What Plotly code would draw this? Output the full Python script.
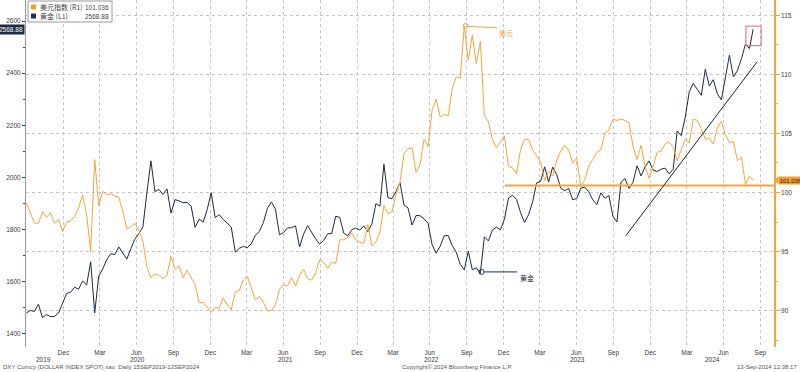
import pandas as pd
import plotly.graph_objects as go

# ---------------- data ----------------
dates = list(pd.date_range("2019-10-01", periods=181, freq="10D")) + [pd.Timestamp("2024-09-13")]

gold = [
    1478, 1488, 1484, 1512, 1460, 1472, 1464, 1465, 1478, 1515,
    1553, 1558, 1577, 1570, 1601, 1586, 1675, 1478, 1620, 1647,
    1683, 1706, 1703, 1732, 1710, 1685, 1726, 1762, 1784, 1809,
    1941, 2063, 1945, 1953, 1934, 1955, 1862, 1914, 1909, 1902,
    1903, 1889, 1807, 1839, 1827, 1876, 1940, 1845, 1856, 1837,
    1824, 1808, 1712, 1727, 1734, 1729, 1745, 1777, 1792, 1826,
    1881, 1905, 1877, 1779, 1787, 1805, 1806, 1813, 1732, 1781,
    1814, 1788, 1763, 1743, 1757, 1783, 1783, 1850, 1846, 1785,
    1775, 1798, 1805, 1797, 1813, 1791, 1820, 1898, 1889, 2050,
    1921, 1918, 1945, 1979, 1893, 1882, 1816, 1853, 1852, 1840,
    1822, 1740, 1708, 1735, 1775, 1776, 1737, 1712, 1665, 1644,
    1716, 1644, 1652, 1630, 1771, 1755, 1797, 1808, 1798, 1839,
    1920, 1931, 1915, 1865, 1826, 1856, 1904, 1978, 1984, 2040,
    1982, 2039, 2011, 1958, 1948, 1957, 1913, 1919, 1958, 1962,
    1944, 1913, 1895, 1940, 1919, 1930, 1850, 1828, 1981, 1995,
    1957, 1981, 2044, 2005, 2040, 2063, 2028, 2022, 2031, 2035,
    2013, 2031, 2178, 2160, 2230, 2329, 2361, 2338, 2315, 2415,
    2351, 2375, 2320, 2298, 2392, 2469, 2386, 2410, 2456, 2512,
    2495, 2568.88,
]

dxy = [
    99.1, 98.3, 97.4, 97.4, 98.4, 97.9, 98.3, 97.4, 97.7, 96.7,
    97.5, 97.6, 98.0, 98.7, 99.8, 98.1, 95.0, 102.8, 98.9, 100.1,
    99.8, 99.9, 99.7, 99.6, 98.4, 96.9, 97.1, 97.4, 96.8, 95.9,
    93.7, 92.8, 93.1, 93.0, 92.7, 93.0, 94.6, 93.5, 93.8, 92.8,
    93.4, 92.8, 92.2, 90.7, 90.7, 90.3, 89.9, 90.3, 90.2, 91.1,
    90.5, 90.1, 91.6, 91.7, 92.6, 92.9, 91.8, 90.9, 91.2, 90.7,
    90.0, 90.0, 90.5, 91.8, 92.2, 92.1, 92.8, 92.1, 93.0, 93.5,
    92.7, 92.6, 93.2, 94.3, 94.1, 93.6, 94.1, 94.0, 96.0, 96.0,
    96.2, 96.6, 96.0, 95.8, 95.7, 97.3, 95.5, 95.8, 96.6, 98.9,
    98.2, 98.4, 99.8, 100.9, 103.3, 103.7, 103.8, 101.7, 102.4, 104.5,
    103.9, 107.0, 107.9, 106.4, 106.6, 106.5, 108.8, 109.8, 109.7, 114.1,
    111.2, 113.3, 110.9, 112.8, 106.5, 106.0, 104.5, 103.8, 104.3, 104.8,
    102.2, 102.1, 101.6, 103.6, 104.5, 104.5, 103.6, 103.1, 102.6, 101.0,
    101.8, 101.4, 102.7, 103.5, 104.0, 103.6, 102.5, 102.9, 100.5, 101.1,
    102.3, 102.8, 103.4, 103.6, 105.0, 105.3, 106.2, 106.1, 106.2, 106.1,
    105.9, 103.9, 102.8, 104.0, 102.2, 101.2, 102.2, 103.4, 103.5, 104.1,
    104.3, 103.8, 102.7, 103.6, 104.5, 104.2, 106.2, 106.1, 105.4, 104.5,
    104.6, 104.1, 105.5, 106.0, 104.9, 104.2, 104.3, 102.7, 103.0, 100.7,
    101.4, 101.036,
]

tick_dates = list(pd.date_range("2020-01-01", "2024-10-01", freq="QS"))
tick_text = ["Dec", "Mar", "Jun", "Sep"] * 5
years = ["2019", "2020", "2021", "2022", "2023", "2024"]
year_px = [43, 137, 285, 431, 577, 712]

ORANGE = "#f4a43a"
NAVY = "#1c2b40"
GRID = "#c4c4c4"
TXT = "#3a3a3a"

# ---------------- geometry helpers ----------------
W, H = 800, 372
L, R, T, B = 26, 26, 0, 25
PW, PH = W - L - R, H - T - B


def px(x):
    return (x - L) / PW


def py(y):
    return (T + PH - y) / PH


fig = go.Figure()
fig.add_trace(go.Scatter(x=dates, y=dxy, mode="lines", name="美元指数 (R1)",
                         line=dict(color=ORANGE, width=1), yaxis="y2"))
fig.add_trace(go.Scatter(x=dates, y=gold, mode="lines", name="黄金 (L1)",
                         line=dict(color=NAVY, width=1), yaxis="y"))

tickfont = dict(family="Liberation Sans, Arial", size=6.5, color=TXT)

fig.update_layout(
    width=W, height=H,
    margin=dict(l=L, r=R, t=T, b=B),
    paper_bgcolor="white", plot_bgcolor="white",
    showlegend=False,
    xaxis=dict(range=["2019-09-30", "2024-11-04"], tickmode="array",
               tickvals=tick_dates, ticktext=tick_text, showgrid=True,
               gridcolor=GRID, griddash="dot", gridwidth=1, zeroline=False,
               showline=False, ticks="", tickfont=tickfont),
    yaxis=dict(range=[1347.3, 2681.5], tick0=1400, dtick=200, ticks="outside",
               ticklen=3, tickcolor="#3a4656", showline=True, linecolor="#8d98a8",
               linewidth=1, showgrid=False, zeroline=False, tickfont=tickfont,
               minor=dict(dtick=100, ticks="outside", ticklen=2, tickcolor="#3a4656")),
    yaxis2=dict(range=[86.93, 116.29], tick0=90, dtick=5, overlaying="y", side="right",
                ticks="outside", ticklen=4, tickcolor=ORANGE, showline=True,
                linecolor=ORANGE, linewidth=1.5, showgrid=True, gridcolor=GRID,
                griddash="dot", gridwidth=1, zeroline=False, tickfont=tickfont,
                minor=dict(dtick=2.5, ticks="outside", ticklen=2, tickcolor=ORANGE)),
)

shapes = []
# orange horizontal support line
shapes.append(dict(type="line", xref="x", yref="y2", x0="2023-01-04", x1="2024-11-04",
                   y0=100.6, y1=100.6, line=dict(color=ORANGE, width=2)))
# trend line on gold
shapes.append(dict(type="line", xref="x", yref="y", x0="2023-11-01", y0=1775,
                   x1="2024-09-23", y1=2444, line=dict(color="#222222", width=1)))
# red box
shapes.append(dict(type="rect", xref="x", yref="y", x0="2024-08-26", x1="2024-10-03",
                   y0=2506, y1=2581, line=dict(color="#e0607a", width=1)))
# 美元 marker
shapes.append(dict(type="circle", xref="x", yref="y2", xsizemode="pixel", ysizemode="pixel",
                   xanchor="2022-09-28", yanchor=114.1, x0=-2.5, x1=2.5, y0=-2.5, y1=2.5,
                   line=dict(color=ORANGE, width=1)))
shapes.append(dict(type="line", xref="x", yref="y2", x0="2022-10-04", y0=114.05,
                   x1="2022-12-15", y1=113.95, line=dict(color=ORANGE, width=1)))
# 黄金 marker
shapes.append(dict(type="circle", xref="x", yref="y", xsizemode="pixel", ysizemode="pixel",
                   xanchor="2022-11-07", yanchor=1636, x0=-2.5, x1=2.5, y0=-2.5, y1=2.5,
                   line=dict(color=NAVY, width=1)))
shapes.append(dict(type="line", xref="x", yref="y", x0="2022-11-14", y0=1636,
                   x1="2023-02-03", y1=1636, line=dict(color=NAVY, width=1)))
# legend box
shapes.append(dict(type="rect", xref="paper", yref="paper", x0=px(28), x1=px(112),
                   y0=py(22), y1=py(1), fillcolor="white", line=dict(color="#9a9a9a", width=1)))
shapes.append(dict(type="rect", xref="paper", yref="paper", x0=px(31), x1=px(36),
                   y0=py(9.5), y1=py(4.5), fillcolor="#f5a01e", line=dict(width=0)))
shapes.append(dict(type="rect", xref="paper", yref="paper", x0=px(31), x1=px(36),
                   y0=py(18.5), y1=py(13.5), fillcolor="#1f3350", line=dict(width=0)))
# right value flag arrow
shapes.append(dict(type="path", xref="paper", yref="paper",
                   path=f"M {px(774.5)},{py(180.3)} L {px(778.5)},{py(176.3)} L {px(778.5)},{py(184.3)} Z",
                   fillcolor="#f0a030", line=dict(width=0)))
fig.update_layout(shapes=shapes)

ann = []
small = dict(family="Liberation Sans, Arial", size=6.5, color=TXT)
cjk = "Noto Sans CJK SC"
ann.append(dict(xref="paper", yref="paper", x=px(38), y=py(7), xanchor="left", yanchor="middle",
                text="美元指数 (R1)", showarrow=False, font=dict(family=cjk, size=7, color="#444")))
ann.append(dict(xref="paper", yref="paper", x=px(110.5), y=py(7), xanchor="right", yanchor="middle",
                text="101.036", showarrow=False, font=dict(family="Liberation Sans", size=6.5, color="#444")))
ann.append(dict(xref="paper", yref="paper", x=px(38), y=py(16), xanchor="left", yanchor="middle",
                text="黄金 (L1)", showarrow=False, font=dict(family=cjk, size=7, color="#444")))
ann.append(dict(xref="paper", yref="paper", x=px(110.5), y=py(16), xanchor="right", yanchor="middle",
                text="2568.88", showarrow=False, font=dict(family="Liberation Sans", size=6.5, color="#444")))
# last value labels
ann.append(dict(xref="paper", yref="y", x=px(25), y=2568.88, xanchor="right", yanchor="middle",
                text="2568.88", showarrow=False, bgcolor=NAVY, borderpad=1,
                font=dict(family="Liberation Sans", size=6.5, color="white")))
ann.append(dict(xref="paper", yref="y2", x=px(778), y=101.036, xanchor="left", yanchor="middle",
                text="101.036", showarrow=False, bgcolor="#f0a030", borderpad=0.5,
                font=dict(family="Liberation Sans", size=6, color="#222")))
# chart notes
ann.append(dict(xref="x", yref="y2", x="2023-01-06", y=113.5, text="美元", showarrow=False,
                font=dict(family=cjk, size=7, color=ORANGE)))
ann.append(dict(xref="x", yref="y", x="2023-02-28", y=1611, text="黄金", showarrow=False,
                font=dict(family=cjk, size=7, color=NAVY)))
# year labels
for yr, xp in zip(years, year_px):
    ann.append(dict(xref="paper", yref="paper", x=px(xp), y=py(359), text=yr, showarrow=False,
                    xanchor="center", yanchor="middle", font=small))
# footer
foot = dict(family="Liberation Sans, Arial", size=6, color="#555")
ann.append(dict(xref="paper", yref="paper", x=px(1), y=py(367), xanchor="left", yanchor="middle",
                text="DXY Curncy (DOLLAR INDEX SPOT) xau  Daily 15SEP2019-13SEP2024",
                showarrow=False, font=foot))
ann.append(dict(xref="paper", yref="paper", x=px(400), y=py(367), xanchor="left", yanchor="middle",
                text="Copyright© 2024 Bloomberg Finance L.P.", showarrow=False, font=foot))
ann.append(dict(xref="paper", yref="paper", x=px(799), y=py(367), xanchor="right", yanchor="middle",
                text="13-Sep-2024 12:38:17", showarrow=False, font=foot))
fig.update_layout(annotations=ann)

fig.write_html("out.html", config={"displayModeBar": False},
               post_script="document.body.style.margin='0px';document.body.style.padding='0px';")
